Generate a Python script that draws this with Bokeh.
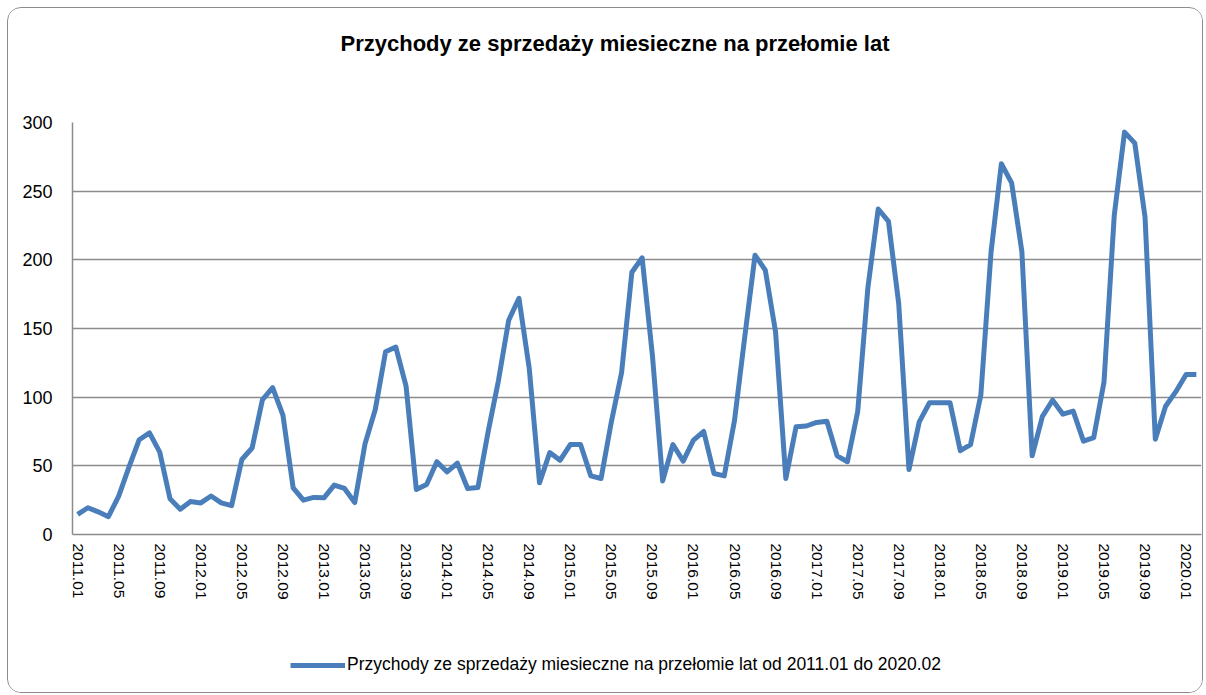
import math
from bokeh.plotting import figure
from bokeh.layouts import column
from bokeh.models import (Range1d, FixedTicker, Legend, LegendItem, ColumnDataSource, Title)
from bokeh.embed import file_html
from bokeh.resources import INLINE

title_text = "Przychody ze sprzedaży miesieczne na przełomie lat"
series_name = "Przychody ze sprzedaży miesieczne na przełomie lat od 2011.01 do 2020.02"

tick_labels = ["2011.01", "2011.05", "2011.09", "2012.01", "2012.05", "2012.09", "2013.01",
               "2013.05", "2013.09", "2014.01", "2014.05", "2014.09", "2015.01", "2015.05",
               "2015.09", "2016.01", "2016.05", "2016.09", "2017.01", "2017.05", "2017.09",
               "2018.01", "2018.05", "2018.09", "2019.01", "2019.05", "2019.09", "2020.01"]

revenue = [14.6, 19.5, 16.5, 13.0, 28.0, 49.0, 69.0, 74.0, 60.0, 26.0, 18.4, 24.0,
           23.0, 28.0, 23.0, 21.0, 54.6, 63.0, 98.0, 107.0, 87.0, 34.0, 25.0, 27.0,
           26.7, 36.0, 33.5, 23.3, 66.0, 91.0, 133.0, 136.5, 108.0, 32.8, 36.4, 53.0,
           45.6, 52.0, 33.5, 34.2, 75.0, 112.0, 156.0, 172.0, 121.0, 37.6, 59.7, 54.0,
           65.5, 65.5, 42.7, 40.8, 82.0, 118.0, 191.0, 201.5, 130.6, 39.0, 65.5, 53.4,
           68.7, 75.0, 44.4, 42.7, 83.0, 144.0, 203.4, 192.5, 147.6, 40.8, 78.4, 79.0,
           81.6, 82.5, 57.3, 53.0, 89.3, 180.0, 237.0, 228.0, 168.0, 47.3, 82.0, 95.9,
           95.9, 95.9, 61.0, 65.5, 101.5, 206.0, 270.0, 256.0, 206.0, 57.3, 86.0, 97.8,
           87.6, 89.8, 68.0, 70.6, 111.0, 232.5, 293.0, 285.0, 231.0, 69.4, 93.4, 104.0,
           116.5, 116.5]

month_index = list(range(len(revenue)))
tick_positions = month_index[::4]

FONT = "Liberation Sans"
GRID = "#8c8c8c"
LINE = "#4a7ebb"

src = ColumnDataSource(dict(x=month_index, y=revenue))

p = figure(width=1194, height=617, output_backend="svg", toolbar_location=None,
           x_range=Range1d(-0.5, len(revenue) - 0.5), y_range=Range1d(0, 300),
           min_border_left=64, min_border_top=114, min_border_right=1, min_border_bottom=91)
p.outline_line_color = None
p.background_fill_color = "white"
p.border_fill_color = "white"

# main title (outermost) + thin spacer title next to the frame
p.title.text = title_text
p.title.align = "left"
p.title.offset = 268
p.title.text_font = FONT
p.title.text_font_size = "22px"
p.title.text_font_style = "bold"
p.title.text_color = "black"
p.title.standoff = 0
p.add_layout(Title(text=" ", text_font_size="1px", standoff=64), "above")

r = p.line("x", "y", source=src, line_color=LINE, line_width=5, line_join="round")

# y axis
p.yaxis.ticker = FixedTicker(ticks=[0, 50, 100, 150, 200, 250, 300])
p.yaxis.axis_line_color = GRID
p.yaxis.axis_line_width = 1.5
p.yaxis.major_tick_line_color = None
p.yaxis.minor_tick_line_color = None
p.yaxis.major_label_standoff = 14
p.yaxis.major_label_text_font = FONT
p.yaxis.major_label_text_font_size = "18px"
p.yaxis.major_label_text_color = "black"

# x axis
p.xaxis.ticker = FixedTicker(ticks=tick_positions)
p.xaxis.major_label_overrides = {pos: lab for pos, lab in zip(tick_positions, tick_labels)}
p.xaxis.major_label_orientation = -math.pi / 2
p.xaxis.axis_line_color = GRID
p.xaxis.axis_line_width = 1.5
p.xaxis.major_tick_line_color = None
p.xaxis.minor_tick_line_color = None
p.xaxis.major_label_standoff = 3
p.xaxis.major_label_text_font = FONT
p.xaxis.major_label_text_font_size = "15.5px"
p.xaxis.major_label_text_color = "black"

p.xgrid.grid_line_color = None
p.ygrid.grid_line_color = GRID
p.ygrid.grid_line_width = 1.5

# legend strip below the chart (key line uses the same series, kept out of view)
p2 = figure(width=1194, height=67, output_backend="svg", toolbar_location=None,
            x_axis_type=None, y_axis_type=None, x_range=Range1d(0, 1), y_range=Range1d(-2, -1),
            min_border_left=0, min_border_right=0, min_border_top=0, min_border_bottom=0)
p2.outline_line_color = None
p2.xgrid.grid_line_color = None
p2.ygrid.grid_line_color = None
p2.border_fill_color = "white"
p2.background_fill_color = "white"
key = p2.line("x", "y", source=src, line_color=LINE, line_width=5)
legend = Legend(items=[LegendItem(label=series_name, renderers=[key])],
                location=(218, 17), orientation="horizontal",
                border_line_color=None, background_fill_alpha=0,
                label_text_font=FONT, label_text_font_size="17.5px", label_text_color="black",
                glyph_width=55, label_standoff=2, margin=0, padding=0)
p2.add_layout(legend)

layout = column(p, p2, spacing=0)
layout.styles = {"border": "1px solid #8c8c8c", "border-radius": "14px",
                 "margin": "7px 0 0 7px", "overflow": "hidden"}

open("out.html", "w").write(file_html(layout, INLINE))
